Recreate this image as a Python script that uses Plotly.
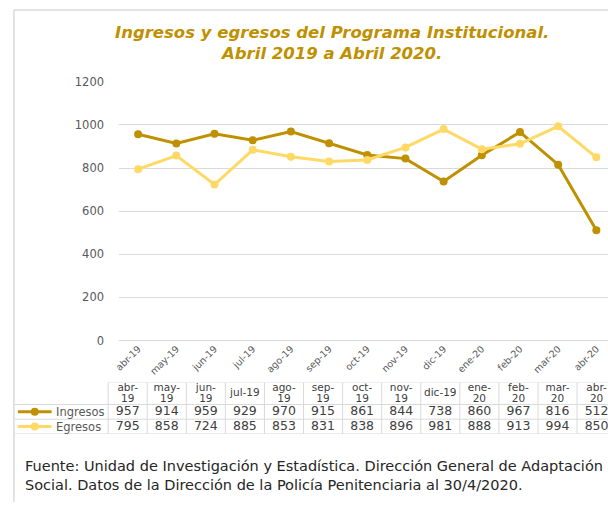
import plotly.graph_objects as go

# ---- data ----
months = ['abr-19', 'may-19', 'jun-19', 'jul-19', 'ago-19', 'sep-19', 'oct-19',
          'nov-19', 'dic-19', 'ene-20', 'feb-20', 'mar-20', 'abr-20']
header_labels = ['abr-<br>19', 'may-<br>19', 'jun-<br>19', 'jul-19', 'ago-<br>19',
                 'sep-<br>19', 'oct-<br>19', 'nov-<br>19', 'dic-19', 'ene-<br>20',
                 'feb-<br>20', 'mar-<br>20', 'abr-<br>20']
ingresos = [957, 914, 959, 929, 970, 915, 861, 844, 738, 860, 967, 816, 512]
egresos = [795, 858, 724, 885, 853, 831, 838, 896, 981, 888, 913, 994, 850]
y_ticks = [0, 200, 400, 600, 800, 1000, 1200]

C_ING = '#BF9000'
C_EGR = '#FFD966'
GRID = '#d9d9d9'
TXT = '#595959'
TAB = '#404040'
FONT = 'DejaVu Sans'

W, H = 608, 509


def px(x):
    return x / W


def py(y):
    return 1 - y / H


fig = go.Figure()

fig.add_trace(go.Scatter(x=months, y=ingresos, name='Ingresos', mode='lines+markers',
                         line=dict(color=C_ING, width=3), marker=dict(size=8, color=C_ING),
                         xaxis='x', yaxis='y', showlegend=False, hoverinfo='skip'))
fig.add_trace(go.Scatter(x=months, y=egresos, name='Egresos', mode='lines+markers',
                         line=dict(color=C_EGR, width=3), marker=dict(size=8, color=C_EGR),
                         xaxis='x', yaxis='y', showlegend=False, hoverinfo='skip'))

# ---- data table (text traces on a second, hidden axis pair) ----
hdr_font = dict(family=FONT, size=10.5, color=TAB)
num_font = dict(family=FONT, size=12.5, color=TAB)
hdr_top_x, hdr_top_t, hdr_bot_x, hdr_bot_t, hdr_one_x, hdr_one_t = [], [], [], [], [], []
for m, lab in zip(months, header_labels):
    parts = lab.split('<br>')
    if len(parts) == 2:
        hdr_top_x.append(m); hdr_top_t.append(parts[0])
        hdr_bot_x.append(m); hdr_bot_t.append(parts[1])
    else:
        hdr_one_x.append(m); hdr_one_t.append(parts[0])

for xs, ts, yy, fnt in ((hdr_top_x, hdr_top_t, 3.1, hdr_font), (hdr_bot_x, hdr_bot_t, 2.35, hdr_font),
                        (hdr_one_x, hdr_one_t, 2.75, hdr_font),
                        (months, [str(v) for v in ingresos], 1.5, num_font),
                        (months, [str(v) for v in egresos], 0.5, num_font)):
    fig.add_trace(go.Scatter(x=xs, y=[yy] * len(xs), text=ts, mode='text', textfont=fnt,
                             xaxis='x2', yaxis='y2', showlegend=False, hoverinfo='skip'))

band_main = 38.5
plot_left = 115
band_tab = 39.4
tab_left = 10
tab_first = 104
x2_start = -0.5 - (tab_first - tab_left) / band_tab

shapes = []
# table grid
for i in range(len(months) + 1):
    shapes.append(dict(type='line', xref='x2', yref='y2', x0=i - 0.5, x1=i - 0.5, y0=0, y1=3.5,
                       line=dict(color=GRID, width=1), layer='below'))
shapes.append(dict(type='line', xref='x2', yref='y2', x0=-0.5, x1=13, y0=3.5, y1=3.5,
                   line=dict(color=GRID, width=1), layer='below'))
for yy in (0, 1, 2):
    shapes.append(dict(type='line', xref='x2', yref='y2', x0=x2_start, x1=13, y0=yy, y1=yy,
                       line=dict(color=GRID, width=1), layer='below'))

# legend keys inside table
for yy, col in ((1.5, C_ING), (0.5, C_EGR)):
    shapes.append(dict(type='line', xref='paper', yref='y2', x0=px(13), x1=px(47), y0=yy, y1=yy,
                       line=dict(color=col, width=3)))
    shapes.append(dict(type='circle', xref='paper', yref='y2', xsizemode='pixel', ysizemode='pixel',
                       xanchor=px(30), yanchor=yy, x0=-4, x1=4, y0=-4, y1=4,
                       fillcolor=col, line=dict(color=col, width=0)))

# chart frame
shapes.append(dict(type='line', xref='paper', yref='paper', x0=px(9), x1=1, y0=py(3), y1=py(3),
                   line=dict(color=GRID, width=1.5)))
shapes.append(dict(type='line', xref='paper', yref='paper', x0=px(9), x1=px(9), y0=py(3), y1=0,
                   line=dict(color=GRID, width=1.5)))

title_font = dict(family=FONT, size=16.5, color=C_ING, weight='bold', style='italic')
annotations = [
    dict(text='Ingresos y egresos del Programa Institucional.<br>Abril 2019 a Abril 2020.',
         xref='paper', yref='paper', x=px(330), y=py(37), showarrow=False,
         xanchor='center', yanchor='middle', align='center', font=title_font),
    dict(text='Ingresos', xref='paper', yref='y2', x=px(49), y=1.5, showarrow=False,
         xanchor='left', yanchor='middle', font=dict(family=FONT, size=11.5, color=TXT)),
    dict(text='Egresos', xref='paper', yref='y2', x=px(49), y=0.5, showarrow=False,
         xanchor='left', yanchor='middle', font=dict(family=FONT, size=11.5, color=TXT)),
    dict(text='Fuente: Unidad de Investigación y Estadística. Dirección General de Adaptación<br>'
              'Social. Datos de la Dirección de la Policía Penitenciaria al 30/4/2020.',
         xref='paper', yref='paper', x=px(18), y=py(481.5), showarrow=False, xanchor='left',
         yanchor='middle', align='left', font=dict(family=FONT, size=14.5, color='#262626')),
]

fig.update_layout(
    width=W, height=H, autosize=False,
    margin=dict(l=0, r=0, t=0, b=0, pad=0),
    paper_bgcolor='white', plot_bgcolor='white',
    showlegend=False,
    xaxis=dict(domain=[px(plot_left), 1], type='category',
               categoryorder='array', categoryarray=months,
               range=[-0.5, -0.5 + (W - plot_left) / band_main],
               showgrid=False, zeroline=False, showline=False, ticks='',
               tickangle=-45, tickfont=dict(family=FONT, size=9.5, color=TXT), anchor='y'),
    yaxis=dict(domain=[py(343), py(77)], range=[0, 1200], tickvals=y_ticks,
               showgrid=True, gridcolor=GRID, gridwidth=1, zeroline=True, zerolinecolor=GRID,
               zerolinewidth=1, showline=False, ticks='', ticklabelstandoff=14,
               tickfont=dict(family=FONT, size=11.5, color=TXT), anchor='x'),
    xaxis2=dict(domain=[px(tab_left), 1], type='category',
                categoryorder='array', categoryarray=months,
                range=[x2_start, x2_start + (W - tab_left) / band_tab],
                visible=False, anchor='y2'),
    yaxis2=dict(domain=[py(439), py(386)], range=[0, 3.5], visible=False, anchor='x2'),
    shapes=shapes,
    annotations=annotations,
)

fig.write_html('out.html', config={'displayModeBar': False},
               post_script="document.body.style.margin='0px';document.body.style.overflow='hidden';")
